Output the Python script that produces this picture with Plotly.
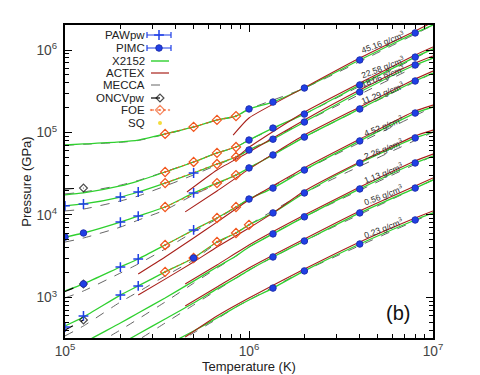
import plotly.graph_objects as go

# ---------------- data ----------------
densities = ["45.16", "22.58", "18.06", "11.29", "4.52", "2.26", "1.13", "0.56", "0.23"]

# X2152 (green) on a common temperature grid, pressure in GPa
t_x2152 = [1.0e5, 1.26e5, 2.0e5, 2.5e5, 3.5e5, 5.0e5, 6.7e5, 8.5e5, 1.0e6, 1.35e6, 2.0e6, 4.0e6, 8.0e6, 1.0e7]
x2152_45_16 = [7.05e4, 7.26e4, 7.7e4, 8.1e4, 9.6e4, 1.17e5, 1.42e5, 1.58e5, 1.93e5, 2.34e5, 3.46e5, 7.57e5, 1.61e6, 2.01e6]
x2152_22_58 = [1.75e4, 1.85e4, 2.25e4, 2.58e4, 3.32e4, 4.39e4, 5.65e4, 6.67e4, 8.1e4, 1.13e5, 1.67e5, 3.77e5, 8.2e5, 1.03e6]
x2152_18_06 = [1.29e4, 1.36e4, 1.65e4, 1.90e4, 2.44e4, 3.23e4, 4.15e4, 5.05e4, 6.14e4, 8.3e4, 1.34e5, 3.10e5, 6.58e5, 8.0e5]
x2152_11_29 = [5.4e3, 6.05e3, 8.2e3, 9.7e3, 1.25e4, 1.85e4, 2.44e4, 3.05e4, 3.72e4, 5.34e4, 8.8e4, 1.93e5, 4.21e5, 5.26e5]
x2152_4_52 = [1.20e3, 1.46e3, 2.34e3, 2.93e3, 4.33e3, 6.6e3, 9.2e3, 1.25e4, 1.56e4, 2.12e4, 3.51e4, 7.9e4, 1.72e5, 2.04e5]
x2152_2_26 = [452, 581, 1.07e3, 1.38e3, 2.04e3, 3.01e3, 4.71e3, 6.05e3, 7.6e3, 1.06e4, 1.85e4, 4.27e4, 8.6e4, 1.01e5]
x2152_1_13 = [207, 281, 491, 649, 986, 1.58e3, 2.34e3, 3.18e3, 4.09e3, 5.9e3, 9.5e3, 2.07e4, 4.27e4, 5.19e4]
x2152_0_56 = [118, 156, 273, 361, 548, 857, 1.27e3, 1.72e3, 2.15e3, 3.10e3, 4.84e3, 1.06e4, 2.12e4, 2.66e4]
x2152_0_23 = [62, 80, 136, 175, 258, 393, 565, 767, 933, 1.30e3, 2.10e3, 4.45e3, 8.7e3, 1.06e4]

# MECCA (grey dashed)
t_mecca = [1.0e5, 1.26e5, 2.0e5, 2.5e5, 3.5e5, 5.0e5, 6.7e5, 8.5e5, 1.0e6, 2.0e6, 1.0e7]
mecca_45_16 = [7.0e4, 7.2e4, 7.6e4, 8.0e4, 9.5e4, 1.16e5, 1.41e5, 1.57e5, 1.92e5, 3.45e5, 2.0e6]
mecca_22_58 = [1.80e4, 1.90e4, 2.3e4, 2.62e4, 3.35e4, 4.4e4, 5.65e4, 6.67e4, 8.1e4, 1.67e5, 1.03e6]
mecca_18_06 = [1.12e4, 1.18e4, 1.48e4, 1.70e4, 2.24e4, 3.06e4, 4.03e4, 5.05e4, 6.14e4, 1.34e5, 8.0e5]
mecca_11_29 = [4.70e3, 5.26e3, 7.13e3, 8.67e3, 1.15e4, 1.75e4, 2.37e4, 3.05e4, 3.72e4, 8.8e4, 5.26e5]
mecca_4_52 = [988, 1.20e3, 1.98e3, 2.55e3, 3.87e3, 6.24e3, 8.94e3, 1.25e4, 1.56e4, 3.51e4, 2.04e5]
mecca_2_26 = [342, 452, 881, 1.17e3, 1.82e3, 2.85e3, 4.58e3, 6.05e3, 7.6e3, 1.85e4, 1.01e5]
mecca_1_13 = [157, 219, 404, 549, 881, 1.49e3, 2.27e3, 3.18e3, 4.09e3, 9.5e3, 5.19e4]
mecca_0_56 = [89, 121, 225, 305, 490, 811, 1.23e3, 1.72e3, 2.15e3, 4.84e3, 2.66e4]
mecca_0_23 = [47, 62, 112, 148, 231, 372, 549, 767, 933, 2.10e3, 1.06e4]

# ACTEX (dark red)
t_actex_45_16 = [8.2e5, 1.0e6, 2.0e6, 4.0e6, 8.0e6, 1.0e7]
actex_45_16 = [9.3e4, 1.5e5, 3.5e5, 8.0e5, 1.70e6, 2.18e6]
t_actex_22_58 = [8.2e5, 1.0e6, 2.0e6, 4.0e6, 8.0e6, 1.0e7]
actex_22_58 = [4.6e4, 6.6e4, 1.77e5, 3.98e5, 8.7e5, 1.09e6]
t_actex_18_06 = [4.6e5, 6.7e5, 1.0e6, 2.0e6, 4.0e6, 8.0e6, 1.0e7]
actex_18_06 = [1.90e4, 3.51e4, 5.8e4, 1.42e5, 3.27e5, 6.95e5, 8.46e5]
t_actex_11_29 = [4.5e5, 6.7e5, 1.0e6, 2.0e6, 4.0e6, 8.0e6, 1.0e7]
actex_11_29 = [1.09e4, 1.95e4, 3.6e4, 9.3e4, 2.04e5, 4.45e5, 5.56e5]
t_actex_4_52 = [2.5e5, 3.5e5, 5.0e5, 6.7e5, 1.0e6, 2.0e6, 4.0e6, 8.0e6, 1.0e7]
actex_4_52 = [1.93e3, 3.10e3, 5.26e3, 8.2e3, 1.52e4, 3.72e4, 8.3e4, 1.82e5, 2.15e5]
t_actex_2_26 = [2.5e5, 3.5e5, 5.0e5, 6.7e5, 1.0e6, 1.35e6, 2.0e6, 4.0e6, 8.0e6, 1.0e7]
actex_2_26 = [1.07e3, 1.67e3, 2.69e3, 4.09e3, 6.95e3, 1.06e4, 1.95e4, 4.39e4, 9.1e4, 1.07e5]
t_actex_low = [4.5e5, 6.7e5, 1.0e6, 2.0e6, 4.0e6, 8.0e6, 1.0e7]
actex_1_13 = [1.46e3, 2.48e3, 4.33e3, 1.0e4, 2.18e4, 4.52e4, 5.48e4]
actex_0_56 = [789, 1.34e3, 2.28e3, 5.12e3, 1.12e4, 2.25e4, 2.81e4]
actex_0_23 = [332, 597, 986, 2.21e3, 4.71e3, 9.2e3, 1.12e4]

# PIMC (blue circles)
t_pimc_hi = [1.0e6, 1.35e6, 2.0e6, 4.0e6, 8.0e6]
pimc_45_16 = [1.93e5, 2.34e5, 3.46e5, 7.57e5, 1.61e6]
pimc_22_58 = [8.1e4, 1.13e5, 1.67e5, 3.77e5, 8.2e5]
pimc_18_06 = [6.14e4, 8.3e4, 1.34e5, 3.10e5, 6.58e5]
t_pimc_11_29 = [1.0e5, 1.26e5, 1.0e6, 1.35e6, 2.0e6, 4.0e6, 8.0e6]
pimc_11_29 = [5.4e3, 6.05e3, 3.72e4, 5.34e4, 8.8e4, 1.93e5, 4.21e5]
t_pimc_4_52 = [1.26e5, 1.0e6, 1.35e6, 2.0e6, 4.0e6, 8.0e6]
pimc_4_52 = [1.46e3, 1.56e4, 2.12e4, 3.51e4, 7.9e4, 1.72e5]
t_pimc_2_26 = [5.0e5, 1.35e6, 2.0e6, 4.0e6, 8.0e6]
pimc_2_26 = [3.01e3, 1.06e4, 1.85e4, 4.27e4, 8.6e4]
t_pimc_lo = [1.35e6, 2.0e6, 4.0e6, 8.0e6]
pimc_1_13 = [5.9e3, 9.5e3, 2.07e4, 4.27e4]
pimc_0_56 = [3.10e3, 4.84e3, 1.06e4, 2.12e4]
pimc_0_23 = [1.30e3, 2.10e3, 4.45e3, 8.7e3]

# PAWpw (blue crosses)
t_paw_18_06 = [1.0e5, 1.26e5, 2.0e5, 2.5e5, 5.0e5]
paw_18_06 = [1.29e4, 1.36e4, 1.65e4, 1.90e4, 3.23e4]
t_paw_mid = [2.0e5, 2.5e5, 5.0e5]
paw_11_29 = [8.2e3, 9.7e3, 1.85e4]
paw_4_52 = [2.34e3, 2.93e3, 6.6e3]
t_paw_2_26 = [1.0e5, 1.26e5, 2.0e5, 2.5e5]
paw_2_26 = [439, 597, 1.07e3, 1.38e3]

# ONCVpw (black open diamonds)
t_oncv = [1.0e5, 1.26e5]
oncv_22_58 = [2.07e4, 2.12e4]
oncv_4_52 = [1.18e3, 1.46e3]
oncv_2_26 = [404, 534]

# FOE (orange)
t_foe_4 = [3.5e5, 5.0e5, 6.7e5, 8.5e5]
foe_45_16 = [9.6e4, 1.17e5, 1.42e5, 1.58e5]
foe_22_58 = [3.32e4, 4.39e4, 5.65e4, 6.67e4]
t_foe_3 = [3.5e5, 6.7e5, 8.5e5]
foe_18_06 = [2.44e4, 4.15e4, 5.05e4]
foe_11_29 = [1.25e4, 2.44e4, 3.05e4]
foe_4_52 = [4.33e3, 9.2e3, 1.25e4]
t_foe_2_26 = [3.5e5, 5.0e5, 6.7e5, 8.5e5, 1.0e6]
foe_2_26 = [2.04e3, 3.01e3, 4.71e3, 6.05e3, 7.6e3]

# SQ (yellow) - no point distinguishable in the picture
t_sq = []
sq_p = []

legend_names = ["PAWpw", "PIMC", "X2152", "ACTEX", "MECCA", "ONCVpw", "FOE", "SQ"]

# ---------------- styles ----------------
GREEN = "#2fd02f"
RED = "#a8201a"
GREY = "#555555"
BLUE = "#1f3fe6"
ORANGE = "#f2561d"
YELLOW = "#f3dc3c"
FONT = "Liberation Sans, Arial, sans-serif"

fig = go.Figure()

mecca_sets = [mecca_45_16, mecca_22_58, mecca_18_06, mecca_11_29, mecca_4_52,
              mecca_2_26, mecca_1_13, mecca_0_56, mecca_0_23]
for p in mecca_sets:
    fig.add_trace(go.Scatter(x=t_mecca, y=p, mode="lines", name="MECCA", showlegend=False,
                             line=dict(color=GREY, width=0.9, dash="dash", shape="spline", smoothing=0.6)))

x2152_sets = [x2152_45_16, x2152_22_58, x2152_18_06, x2152_11_29, x2152_4_52,
              x2152_2_26, x2152_1_13, x2152_0_56, x2152_0_23]
for p in x2152_sets:
    fig.add_trace(go.Scatter(x=t_x2152, y=p, mode="lines", name="X2152", showlegend=False,
                             line=dict(color=GREEN, width=1.3, shape="spline", smoothing=0.6)))

actex_sets = [(t_actex_45_16, actex_45_16), (t_actex_22_58, actex_22_58), (t_actex_18_06, actex_18_06),
              (t_actex_11_29, actex_11_29), (t_actex_4_52, actex_4_52), (t_actex_2_26, actex_2_26),
              (t_actex_low, actex_1_13), (t_actex_low, actex_0_56), (t_actex_low, actex_0_23)]
for t, p in actex_sets:
    fig.add_trace(go.Scatter(x=t, y=p, mode="lines", name="ACTEX", showlegend=False,
                             line=dict(color=RED, width=1.1, shape="spline", smoothing=0.5)))

for p in [oncv_22_58, oncv_4_52, oncv_2_26]:
    fig.add_trace(go.Scatter(x=t_oncv, y=p, mode="lines+markers", name="ONCVpw", showlegend=False,
                             line=dict(color="black", width=1.2, dash="dash"),
                             marker=dict(symbol="diamond-open", size=[0, 6], color="black", line=dict(width=1.2))))

foe_sets = [(t_foe_4, foe_45_16), (t_foe_4, foe_22_58), (t_foe_3, foe_18_06),
            (t_foe_3, foe_11_29), (t_foe_3, foe_4_52), (t_foe_2_26, foe_2_26)]
for t, p in foe_sets:
    fig.add_trace(go.Scatter(x=t, y=p, mode="lines+markers", name="FOE", showlegend=False,
                             line=dict(color=ORANGE, width=1, dash="dot"),
                             marker=dict(symbol="diamond-open-dot", size=7, color=ORANGE, line=dict(width=1.2))))

paw_sets = [(t_paw_18_06, paw_18_06), (t_paw_mid, paw_11_29), (t_paw_mid, paw_4_52), (t_paw_2_26, paw_2_26)]
for t, p in paw_sets:
    fig.add_trace(go.Scatter(x=t, y=p, mode="markers", name="PAWpw", showlegend=False,
                             marker=dict(symbol="cross-thin-open", size=7, color=BLUE, line=dict(width=1.5, color=BLUE))))

pimc_sets = [(t_pimc_hi, pimc_45_16), (t_pimc_hi, pimc_22_58), (t_pimc_hi, pimc_18_06),
             (t_pimc_11_29, pimc_11_29), (t_pimc_4_52, pimc_4_52), (t_pimc_2_26, pimc_2_26),
             (t_pimc_lo, pimc_1_13), (t_pimc_lo, pimc_0_56), (t_pimc_lo, pimc_0_23)]
for t, p in pimc_sets:
    fig.add_trace(go.Scatter(x=t, y=p, mode="markers", name="PIMC", showlegend=False,
                             marker=dict(symbol="circle", size=6.5, color=BLUE, line=dict(width=1, color="#2030b0"))))

fig.add_trace(go.Scatter(x=t_sq, y=sq_p, mode="markers", name="SQ", showlegend=False,
                         marker=dict(symbol="circle", size=4, color=YELLOW)))

# ---------------- hand-made legend (text left of the sample, as in the reference) ----------------
# overlay axes measured in screen pixels of the plotting area
leg_rows = [35, 48, 61, 73, 85, 98, 110, 123]
gx0, gx1, gxc = 151, 169, 160
def lg(**kw):
    fig.add_trace(go.Scatter(xaxis="x2", yaxis="y2", showlegend=False, hoverinfo="skip", **kw))

lg(x=[gxc - 1], y=[leg_rows[0]], mode="markers",
   marker=dict(symbol="cross-thin-open", size=7, color=BLUE, line=dict(width=1.5, color=BLUE)),
   error_x=dict(type="constant", value=12, color=BLUE, thickness=1.2, width=3))
lg(x=[gxc - 1], y=[leg_rows[1]], mode="markers",
   marker=dict(symbol="circle", size=6.5, color=BLUE, line=dict(width=1, color="#2030b0")),
   error_x=dict(type="constant", value=12, color=BLUE, thickness=1.2, width=3))
lg(x=[gx0, gx1], y=[leg_rows[2]] * 2, mode="lines", line=dict(color=GREEN, width=1.4))
lg(x=[gx0, gx1], y=[leg_rows[3]] * 2, mode="lines", line=dict(color=RED, width=1.2))
lg(x=[gx0, gx1], y=[leg_rows[4]] * 2, mode="lines", line=dict(color=GREY, width=0.9, dash="dash"))
lg(x=[gx0, gxc, gx1], y=[leg_rows[5]] * 3, mode="lines+markers", line=dict(color="black", width=1.2, dash="dash"),
   marker=dict(symbol="diamond-open", size=[0, 6, 0], color="black", line=dict(width=1.2)))
lg(x=[gx0, gxc, gx1], y=[leg_rows[6]] * 3, mode="lines+markers", line=dict(color=ORANGE, width=1, dash="dot"),
   marker=dict(symbol="diamond-open-dot", size=[0, 7, 0], color=ORANGE, line=dict(width=1.2)))
lg(x=[gxc], y=[leg_rows[7]], mode="markers", marker=dict(symbol="circle", size=4, color=YELLOW))

annotations = []
for name, yr in zip(legend_names, leg_rows):
    annotations.append(dict(x=147, y=yr, xref="x2", yref="y2", text=name, showarrow=False,
                            xanchor="right", yanchor="middle", font=dict(family=FONT, size=11.5, color="#222")))

label_pos = [(383, 42), (383, 67), (383, 76), (382, 93), (383, 126), (383, 149), (383, 173), (383, 195), (383, 228)]
for d, (lx, ly) in zip(densities, label_pos):
    annotations.append(dict(x=lx, y=ly, xref="x2", yref="y2", text=d + " g/cm<sup>3</sup>", showarrow=False,
                            textangle=-21, xanchor="center", yanchor="middle",
                            font=dict(family=FONT, size=8.5, color="#333")))

annotations.append(dict(x=398, y=313, xref="x2", yref="y2", text="(b)", showarrow=False,
                        xanchor="center", yanchor="middle", font=dict(family=FONT, size=20, color="#111")))

axis_common = dict(type="log", showline=True, linecolor="black", linewidth=1.5, mirror="allticks",
                   ticks="inside", ticklen=7, tickwidth=1, tickcolor="black", dtick=1,
                   exponentformat="power", showgrid=False, zeroline=False, automargin=False,
                   minor=dict(ticks="inside", ticklen=4, tickwidth=1, tickcolor="black", showgrid=False),
                   tickfont=dict(family=FONT, size=11, color="#444"))

# the page body has an 8 px margin, so the figure is drawn 8 px in from the window corner
fig.update_layout(
    width=472, height=367,
    margin=dict(l=57, r=47, t=17, b=37),
    paper_bgcolor="white", plot_bgcolor="white",
    showlegend=False,
    font=dict(family=FONT),
    xaxis=dict(range=[5, 7], title=dict(text="Temperature (K)", font=dict(family=FONT, size=13, color="#222"), standoff=2),
               **axis_common),
    yaxis=dict(range=[2.509, 6.303], title=dict(text="Pressure (GPa)", font=dict(family=FONT, size=13, color="#222"), standoff=2),
               ticklabelstandoff=4, **axis_common),
    xaxis2=dict(overlaying="x", range=[65, 433], visible=False, fixedrange=True),
    yaxis2=dict(overlaying="y", range=[338, 25], visible=False, fixedrange=True),
    annotations=annotations,
)

fig.write_html("out.html")
